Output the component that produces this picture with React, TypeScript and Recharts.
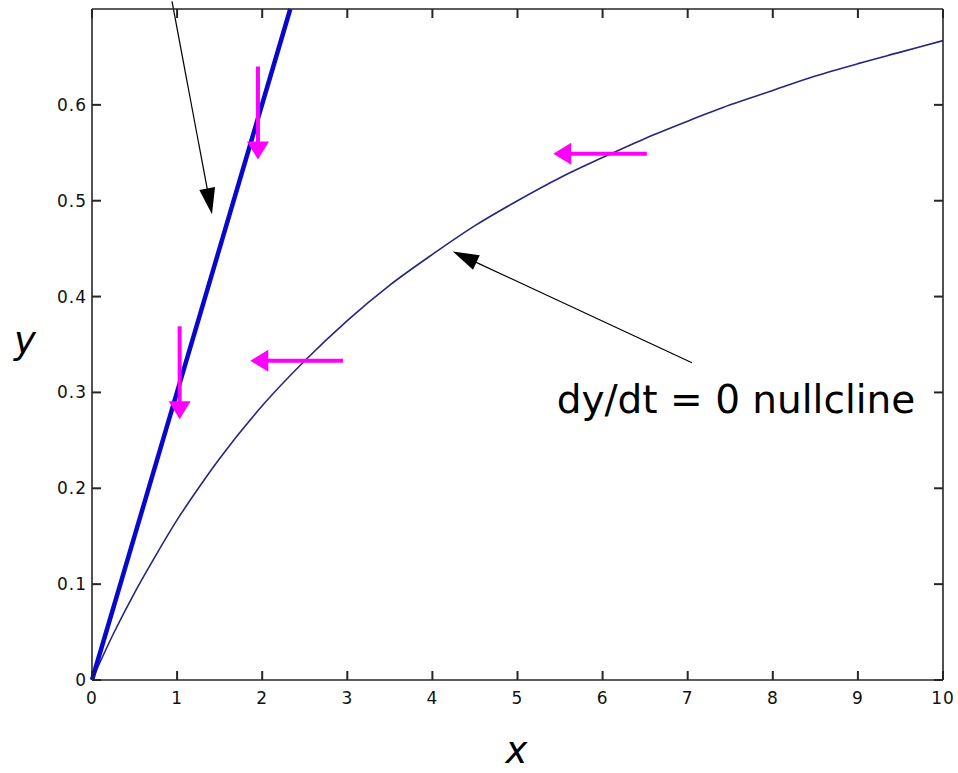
import { ComposedChart, Line, XAxis, YAxis, ReferenceLine, ReferenceDot } from "recharts";

// dy/dt = 0 nullcline, sampled along x
const NULLCLINE_X = [0, 0.25, 0.5, 0.75, 1, 1.25, 1.5, 2, 2.5, 3, 3.5, 4, 4.5, 5, 5.5, 6, 6.5, 7, 7.5, 8, 8.5, 9, 9.5, 10];
const NULLCLINE_Y = [0, 0.048, 0.091, 0.13, 0.167, 0.2, 0.231, 0.286, 0.333, 0.375, 0.412, 0.444, 0.474, 0.5, 0.524, 0.545, 0.565, 0.583, 0.6, 0.615, 0.63, 0.643, 0.655, 0.667];

// the steep straight nullcline through the origin
const STEEP_X = [0, 2.33];
const STEEP_Y = [0, 0.7];

const X_TICKS = [0, 1, 2, 3, 4, 5, 6, 7, 8, 9, 10];
const Y_TICKS = [0, 0.1, 0.2, 0.3, 0.4, 0.5, 0.6];

// direction-field arrows: [x1, y1, x2, y2]
const FLOW_ARROWS = [
  [1.95, 0.64, 1.95, 0.543],
  [1.03, 0.369, 1.03, 0.272],
  [6.52, 0.549, 5.42, 0.549],
  [2.95, 0.333, 1.86, 0.333],
];

// annotation pointers: [x1, y1, x2, y2]
const POINTERS = [
  [0.94, 0.708, 1.41, 0.486],
  [7.05, 0.331, 4.24, 0.447],
];

const NOTE_TEXT = "dy/dt = 0 nullcline";
const NOTE_AT = [5.46, 0.279];

const nullcline = NULLCLINE_X.map((x, i) => ({ x, y: NULLCLINE_Y[i] }));
const steep = STEEP_X.map((x, i) => ({ x, y: STEEP_Y[i] }));

const W = 958;
const H = 773;
const MARGIN = { top: 8, right: 14, bottom: 53, left: 32 };

const AXIS = "#262626";
const TICK_LEN = 9;
const TICK_FONT = { fontFamily: "DejaVu Sans", fontSize: 17, letterSpacing: 1, fill: "#111" };
const AXIS_LINE = { stroke: AXIS, strokeWidth: 1.6 };

const arrowShape = (color: string, width: number, headLen: number, headHalf: number) => (p: any) => {
  const { x1, y1, x2, y2 } = p;
  const dx = x2 - x1;
  const dy = y2 - y1;
  const len = Math.hypot(dx, dy) || 1;
  const ux = dx / len;
  const uy = dy / len;
  const bx = x2 - ux * headLen;
  const by = y2 - uy * headLen;
  const nx = -uy * headHalf;
  const ny = ux * headHalf;
  return (
    <g>
      <line x1={x1} y1={y1} x2={bx + ux * 2} y2={by + uy * 2} stroke={color} strokeWidth={width} />
      <polygon points={`${x2},${y2} ${bx + nx},${by + ny} ${bx - nx},${by - ny}`} fill={color} />
    </g>
  );
};

const flowArrow = arrowShape("#ff00ff", 4, 18, 11);
const pointer = arrowShape("#000", 1.2, 26, 8);

// inward tick marks: a reference line across the whole box, of which only
// the two short stubs at its ends are drawn
const tickStubs = (p: any) => {
  const { x1, y1, x2, y2 } = p;
  const dx = x2 - x1;
  const dy = y2 - y1;
  const len = Math.hypot(dx, dy) || 1;
  const ux = (dx / len) * TICK_LEN;
  const uy = (dy / len) * TICK_LEN;
  return (
    <g>
      <line x1={x1} y1={y1} x2={x1 + ux} y2={y1 + uy} stroke={AXIS} strokeWidth={2} />
      <line x1={x2} y1={y2} x2={x2 - ux} y2={y2 - uy} stroke={AXIS} strokeWidth={2} />
    </g>
  );
};

const BottomTick = (p: any) => (
  <text x={p.x} y={p.y + 24} textAnchor="middle" {...TICK_FONT}>
    {p.payload.value}
  </text>
);

const LeftTick = (p: any) => (
  <text x={p.x - 5} y={p.y + 6} textAnchor="end" {...TICK_FONT}>
    {p.payload.value}
  </text>
);

export default function App() {
  return (
    <div style={{ position: "absolute", left: 0, top: 0, background: "#fff" }}>
      <ComposedChart width={W} height={H} margin={MARGIN}>
        <XAxis
          dataKey="x"
          type="number"
          domain={[0, 10]}
          ticks={X_TICKS}
          interval={0}
          tickSize={0}
          tickMargin={0}
          height={40}
          axisLine={AXIS_LINE}
          tickLine={false}
          tick={BottomTick}
        />
        <XAxis
          xAxisId="top"
          orientation="top"
          type="number"
          domain={[0, 10]}
          height={1}
          axisLine={AXIS_LINE}
          tickLine={false}
          tick={false}
        />
        <YAxis
          type="number"
          domain={[0, 0.7]}
          ticks={Y_TICKS}
          interval={0}
          tickSize={0}
          tickMargin={0}
          width={60}
          axisLine={AXIS_LINE}
          tickLine={false}
          tick={LeftTick}
        />
        <YAxis
          yAxisId="right"
          orientation="right"
          type="number"
          domain={[0, 0.7]}
          width={1}
          axisLine={AXIS_LINE}
          tickLine={false}
          tick={false}
        />
        {X_TICKS.map((t) => (
          <ReferenceLine key={`xt${t}`} x={t} ifOverflow="visible" shape={tickStubs} />
        ))}
        {Y_TICKS.map((t) => (
          <ReferenceLine key={`yt${t}`} y={t} ifOverflow="visible" shape={tickStubs} />
        ))}
        <Line
          data={nullcline}
          dataKey="y"
          type="monotone"
          stroke="#26267e"
          strokeWidth={1.6}
          dot={false}
          isAnimationActive={false}
        />
        <Line
          data={steep}
          dataKey="y"
          type="linear"
          stroke="#0808cc"
          strokeWidth={4.5}
          dot={false}
          isAnimationActive={false}
        />
        {FLOW_ARROWS.map(([x1, y1, x2, y2], i) => (
          <ReferenceLine
            key={`f${i}`}
            segment={[{ x: x1, y: y1 }, { x: x2, y: y2 }]}
            ifOverflow="visible"
            shape={flowArrow}
          />
        ))}
        {POINTERS.map(([x1, y1, x2, y2], i) => (
          <ReferenceLine
            key={`p${i}`}
            segment={[{ x: x1, y: y1 }, { x: x2, y: y2 }]}
            ifOverflow="visible"
            shape={pointer}
          />
        ))}
        <ReferenceDot
          x={NOTE_AT[0]}
          y={NOTE_AT[1]}
          ifOverflow="visible"
          shape={(p: any) => (
            <text x={p.cx} y={p.cy} fontFamily="DejaVu Sans" fontSize={39} fill="#000">
              {NOTE_TEXT}
            </text>
          )}
        />
        {/* axis names */}
        <ReferenceDot
          x={5}
          y={0}
          ifOverflow="visible"
          shape={(p: any) => (
            <text x={p.cx - 1} y={p.cy + 83} textAnchor="middle" fontFamily="DejaVu Sans" fontStyle="italic" fontSize={37} fill="#000">
              x
            </text>
          )}
        />
        <ReferenceDot
          x={0}
          y={0.35}
          ifOverflow="visible"
          shape={(p: any) => (
            <text x={25} y={p.cy + 8} textAnchor="middle" fontFamily="DejaVu Sans" fontStyle="italic" fontSize={37} fill="#000">
              y
            </text>
          )}
        />
      </ComposedChart>
    </div>
  );
}
